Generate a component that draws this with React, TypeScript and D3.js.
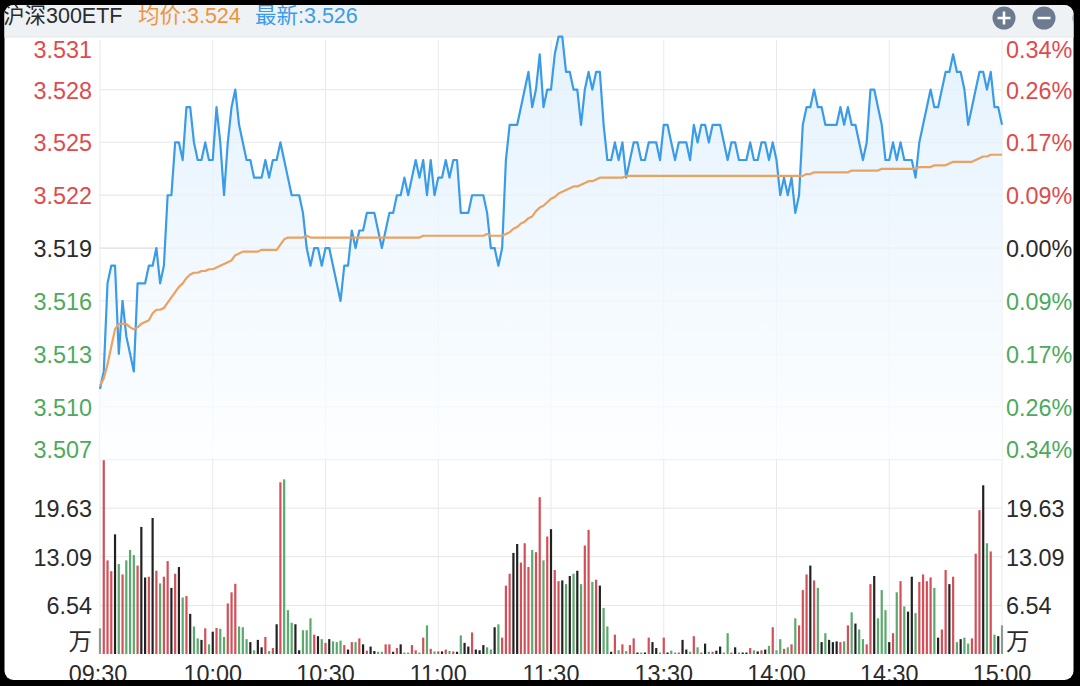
import * as d3 from 'd3';

const FONT = '"Liberation Sans", "Noto Sans CJK SC", sans-serif';

const timeLabels = ['09:30', '10:00', '10:30', '11:00', '11:30', '13:30', '14:00', '14:30', '15:00'];
const timeTicks = [0, 30, 60, 90, 120, 150, 180, 210, 240];

const priceTicks = ['3.531', '3.528', '3.525', '3.522', '3.519', '3.516', '3.513', '3.510', '3.507'];
const pctTicks = ['0.34%', '0.26%', '0.17%', '0.09%', '0.00%', '0.09%', '0.17%', '0.26%', '0.34%'];
const volTicks = ['19.63', '13.09', '6.54'];

// last price per minute, in thousandths of a yuan
const lastPrice = [
  3511, 3512, 3517, 3518, 3518, 3513, 3516, 3514, 3513, 3512,
  3517, 3517, 3517, 3518, 3518, 3519, 3517, 3518, 3522, 3522,
  3525, 3525, 3524, 3527, 3527, 3525, 3524, 3524, 3525, 3524,
  3524, 3527, 3525, 3522, 3525, 3527, 3528, 3526, 3525, 3524,
  3524, 3523, 3523, 3523, 3524, 3523, 3524, 3524, 3525, 3524,
  3523, 3522, 3522, 3522, 3521, 3519, 3518, 3519, 3519, 3518,
  3519, 3519, 3518, 3517, 3516, 3518, 3518, 3520, 3519, 3520,
  3520, 3521, 3521, 3521, 3520, 3519, 3520, 3521, 3521, 3522,
  3522, 3523, 3522, 3523, 3524, 3523, 3524, 3522, 3524, 3522,
  3523, 3523, 3524, 3523, 3524, 3524, 3521, 3521, 3521, 3522,
  3522, 3522, 3522, 3521, 3519, 3519, 3518, 3519, 3524, 3526,
  3526, 3526, 3527, 3528, 3529, 3527, 3528, 3530, 3527, 3528,
  3528, 3530, 3531, 3531, 3529, 3529, 3528, 3528, 3526, 3528,
  3529, 3528, 3529, 3529, 3526, 3524, 3524, 3525, 3524, 3525,
  3523, 3524, 3525, 3525, 3524, 3524, 3525, 3525, 3525, 3524,
  3526, 3526, 3525, 3524, 3525, 3525, 3525, 3524, 3526, 3525,
  3526, 3526, 3525, 3526, 3526, 3526, 3525, 3524, 3525, 3525,
  3524, 3524, 3524, 3525, 3524, 3524, 3525, 3525, 3524, 3525,
  3524, 3522, 3523, 3522, 3523, 3521, 3522, 3526, 3527, 3527,
  3528, 3527, 3527, 3526, 3526, 3526, 3526, 3527, 3526, 3527,
  3526, 3526, 3525, 3524, 3525, 3528, 3528, 3527, 3526, 3524,
  3524, 3525, 3524, 3525, 3524, 3524, 3524, 3523, 3525, 3526,
  3527, 3528, 3527, 3527, 3528, 3529, 3529, 3530, 3529, 3529,
  3528, 3526, 3527, 3528, 3529, 3529, 3528, 3529, 3527, 3527, 3526,
];

// average price per minute
const avgPrice = [
  3.5112, 3.5116, 3.5124, 3.5134, 3.5144, 3.5147, 3.5147, 3.5147, 3.5145, 3.5144,
  3.5145, 3.5147, 3.5148, 3.5149, 3.5153, 3.5155, 3.5155, 3.5156, 3.5159, 3.5162,
  3.5165, 3.5168, 3.517, 3.5173, 3.5175, 3.5176, 3.5176, 3.5177, 3.5177, 3.5178,
  3.5178, 3.5179, 3.518, 3.5181, 3.5182, 3.5183, 3.5186, 3.5187, 3.5188, 3.5188,
  3.5188, 3.5188, 3.5188, 3.5189, 3.5189, 3.5189, 3.5189, 3.5189, 3.5192, 3.5195,
  3.5196, 3.5196, 3.5196, 3.5196, 3.5196, 3.5197, 3.5196, 3.5196, 3.5196, 3.5196,
  3.5196, 3.5196, 3.5196, 3.5196, 3.5196, 3.5196, 3.5196, 3.5196, 3.5196, 3.5196,
  3.5196, 3.5196, 3.5196, 3.5196, 3.5196, 3.5196, 3.5196, 3.5196, 3.5196, 3.5196,
  3.5196, 3.5196, 3.5196, 3.5196, 3.5196, 3.5196, 3.5197, 3.5197, 3.5197, 3.5197,
  3.5197, 3.5197, 3.5197, 3.5197, 3.5197, 3.5197, 3.5197, 3.5197, 3.5197, 3.5197,
  3.5197, 3.5197, 3.5197, 3.5198, 3.5197, 3.5197, 3.5197, 3.5197, 3.5198, 3.5199,
  3.5201, 3.5202, 3.5204, 3.5205, 3.5207, 3.5208, 3.5211, 3.5213, 3.5214, 3.5216,
  3.5218, 3.5219, 3.5221, 3.5222, 3.5223, 3.5224, 3.5225, 3.5225, 3.5226, 3.5227,
  3.5228, 3.5228, 3.5229, 3.523, 3.523, 3.523, 3.523, 3.523, 3.523, 3.523,
  3.5231, 3.5231, 3.5231, 3.5231, 3.5231, 3.5231, 3.5231, 3.5231, 3.5231, 3.5231,
  3.5231, 3.5231, 3.5231, 3.5231, 3.5231, 3.5231, 3.5231, 3.5231, 3.5231, 3.5231,
  3.5231, 3.5231, 3.5231, 3.5231, 3.5231, 3.5231, 3.5231, 3.5231, 3.5231, 3.5231,
  3.5231, 3.5231, 3.5231, 3.5231, 3.5231, 3.5231, 3.5231, 3.5231, 3.5231, 3.5231,
  3.5231, 3.5231, 3.5231, 3.5231, 3.5231, 3.5231, 3.5231, 3.5231, 3.5232, 3.5232,
  3.5233, 3.5233, 3.5233, 3.5233, 3.5233, 3.5233, 3.5233, 3.5233, 3.5233, 3.5233,
  3.5234, 3.5234, 3.5234, 3.5234, 3.5234, 3.5234, 3.5234, 3.5234, 3.5235, 3.5235,
  3.5235, 3.5235, 3.5235, 3.5235, 3.5235, 3.5235, 3.5235, 3.5235, 3.5236, 3.5236,
  3.5236, 3.5236, 3.5237, 3.5237, 3.5237, 3.5237, 3.5238, 3.5239, 3.5239, 3.5239,
  3.5239, 3.5239, 3.5239, 3.524, 3.5241, 3.5242, 3.5242, 3.5243, 3.5243, 3.5243, 3.5243,
];

// volume per minute, in 万
const volume = [
  3.45, 26.07, 12.6, 11.15, 16.1, 12.1, 10.7, 12.6, 14.0, 13.3,
  11.9, 17.1, 10.3, 10.4, 18.3, 11.2, 9.5, 10.4, 12.5, 8.9,
  10.8, 11.7, 7.6, 7.8, 5.4, 3.7, 2.1, 1.9, 3.45, 1.3,
  3.0, 3.5, 3.4, 2.3, 6.8, 8.3, 9.45, 3.7, 3.6, 2.0,
  1.6, 0.5, 1.9, 0.9, 2.3, 0.4, 0.8, 4.0, 23.1, 23.5,
  5.9, 4.2, 4.0, 0.5, 3.2, 3.2, 4.8, 2.6, 2.4, 2.0,
  1.5, 2.0, 1.7, 1.6, 1.8, 1.2, 0.6, 1.6, 1.6, 2.1,
  1.3, 0.45, 1.0, 0.4, 0.3, 0.3, 1.3, 1.3, 0.3, 0.8,
  1.3, 0.2, 0.2, 1.2, 0.5, 0.2, 2.2, 3.85, 0.7, 0.35,
  0.35, 0.35, 0.6, 0.4, 0.35, 0.3, 2.5, 1.5, 1.0, 2.9,
  0.6, 0.5, 1.2, 0.9, 0.6, 3.6, 4.0, 2.2, 9.2, 10.8,
  13.6, 14.8, 12.3, 14.9, 11.7, 14.0, 13.7, 21.1, 12.6, 15.8,
  16.8, 11.3, 9.8, 9.9, 9.4, 10.5, 10.8, 11.2, 9.4, 14.6,
  16.7, 9.7, 10.0, 9.2, 6.2, 3.7, 0.3, 2.6, 0.5, 1.3,
  0.4, 1.2, 2.1, 0.2, 0.2, 0.2, 2.2, 1.6, 0.8, 0.2,
  2.2, 0.2, 0.45, 0.2, 0.2, 1.9, 0.6, 0.3, 2.4, 0.9,
  0.2, 1.4, 0.3, 0.3, 0.45, 1.0, 0.2, 2.8, 0.2, 0.9,
  0.2, 0.2, 0.2, 0.8, 0.5, 0.35, 0.5, 0.6, 1.1, 3.6,
  0.5, 2.0, 0.7, 0.9, 1.3, 4.8, 3.85, 8.6, 10.7, 11.9,
  9.9, 8.9, 1.6, 2.8, 1.9, 1.6, 1.7, 1.6, 1.7, 3.85,
  5.6, 4.1, 3.3, 2.0, 1.3, 9.4, 10.5, 4.8, 8.6, 5.9,
  1.6, 2.8, 8.3, 9.8, 6.4, 5.7, 10.4, 5.5, 9.7, 10.7,
  9.8, 10.3, 8.9, 2.2, 3.3, 11.3, 9.4, 10.4, 1.6, 2.0,
  2.2, 1.4, 2.1, 13.5, 19.35, 22.7, 14.9, 13.8, 2.6, 2.4, 3.85,
];

// bar colour per minute: r up, g down, k flat, a auction
const volumeSide = (
  'arrrkgrggg' + 'rkkrkrgrrk' + 'rkgrkggkrg' + 'krggrrrggg' +
  'kgkkrgrkrg' + 'ggkkgggrkg' + 'rkgggrkrgr' + 'krkkggrrkr' +
  'kggrrgrgrg' + 'rkrgrkgkkr' + 'kkkggkgrrr' + 'kkrrrgrrgr' +
  'krrkgkgkgr' + 'rgrkggkrgr' + 'grrkgkrkkg' + 'rkggrkkgrg' +
  'rkgrkkggrk' + 'gkkrgkrkgr' + 'ggrgrgrrrk' + 'rgkgkkkrgr' +
  'gkggrrkggg' + 'krgrgkkgrr' + 'rrgkrrkrgk' + 'ggrrrkgrgka'
).split('');

const sideColors: Record<string, string> = { r: '#d44f58', g: '#5ba96c', k: '#222222', a: '#8f9a94' };

const x = d3.scaleLinear().domain([0, 240]).range([100, 1002]);
const yPrice = d3.scaleLinear().domain([3.507, 3.531]).range([459.5, 36.7]);
const yVol = d3.scaleLinear().domain([0, 26.17]).range([654, 459.5]);

const priceLine = d3.line<number>().x((_, i) => x(i)).y((d) => yPrice(d / 1000));
const priceArea = d3
  .area<number>()
  .x((_, i) => x(i))
  .y0(yPrice(3.507))
  .y1((d) => yPrice(d / 1000));
const avgLine = d3.line<number>().x((_, i) => x(i)).y((d) => yPrice(d));

const tickColor = (i: number) => (i < 4 ? '#df4b4d' : i === 4 ? '#2b2b2b' : '#4caa5c');
// top and bottom labels sit inside the plot, not on their grid line
const labelY = (i: number) => {
  const y = yPrice(+priceTicks[i]);
  return i === 0 ? y + 13 : i === 8 ? y - 10 : y + 1;
};

export default function App() {
  return (
    <svg
      width={1080}
      height={686}
      style={{ position: 'fixed', left: 0, top: 0, display: 'block', fontFamily: FONT }}
    >
      <defs>
        <clipPath id="frame">
          <rect x={4.5} y={5} width={1069} height={675} rx={9} />
        </clipPath>
        <linearGradient id="areaFill" gradientUnits="userSpaceOnUse" x1={0} y1={36} x2={0} y2={460}>
          <stop offset="0%" stopColor="#deeffd" />
          <stop offset="100%" stopColor="#fdfeff" />
        </linearGradient>
      </defs>
      <rect width={1080} height={686} fill="#000" />
      <g clipPath="url(#frame)">
        <rect width={1080} height={686} fill="#fff" />
        <rect x={0} y={0} width={1080} height={37} fill="#eff2f4" />
        <line x1={0} x2={1080} y1={37} y2={37} stroke="#e4e6e8" strokeWidth={1} />

        <text x={3} y={23} fontSize={21.5} fill="#2b2b2b">沪深300ETF</text>
        <text x={138} y={23} fontSize={21.5} fill="#f0923a">均价:3.524</text>
        <text x={255} y={23} fontSize={21.5} fill="#3a9bee">最新:3.526</text>

        <circle cx={1004} cy={18} r={11.5} fill="#6c7b8f" />
        <path d="M997.5 18H1010.5M1004 11.5V24.5" stroke="#fff" strokeWidth={2.6} />
        <circle cx={1044} cy={18} r={11.5} fill="#6c7b8f" />
        <path d="M1037.5 18H1050.5" stroke="#fff" strokeWidth={2.6} />
        <circle cx={1084} cy={18} r={11.5} fill="#6c7b8f" />

        {/* grid */}
        {priceTicks.slice(1).map((t) => (
          <line
            key={t}
            x1={x(0)}
            x2={x(240)}
            y1={yPrice(+t)}
            y2={yPrice(+t)}
            stroke={t === '3.519' ? '#dcdee1' : '#ececee'}
            strokeWidth={1.3}
          />
        ))}
        {volTicks.map((t) => (
          <line key={t} x1={x(0)} x2={x(240)} y1={yVol(+t)} y2={yVol(+t)} stroke="#e6e6e8" strokeWidth={1} />
        ))}
        {timeTicks.map((t) => (
          <line key={t} x1={x(t)} x2={x(t)} y1={40} y2={654} stroke="#e6e9ed" strokeWidth={1} />
        ))}

        {/* price */}
        <path d={priceArea(lastPrice) ?? ''} fill="url(#areaFill)" fillOpacity={0.8} />
        <path d={priceLine(lastPrice) ?? ''} fill="none" stroke="#3a9be8" strokeWidth={2.2} strokeLinejoin="round" />
        <path d={avgLine(avgPrice) ?? ''} fill="none" stroke="#eba15f" strokeWidth={2.2} strokeLinejoin="round" />

        {/* volume */}
        {volume.map((v, i) => (
          <rect
            key={i}
            x={x(i) - 1.1}
            y={yVol(v)}
            width={2.2}
            height={yVol(0) - yVol(v)}
            fill={sideColors[volumeSide[i]]}
          />
        ))}

        {/* axis labels */}
        <g fontSize={23.4} dominantBaseline="central">
          {priceTicks.map((t, i) => (
            <text key={t} x={92} y={labelY(i)} textAnchor="end" fill={tickColor(i)}>{t}</text>
          ))}
          {pctTicks.map((t, i) => (
            <text key={i} x={1006} y={labelY(i)} fill={tickColor(i)}>{t}</text>
          ))}
          {volTicks.map((t) => (
            <g key={t} fill="#2b2b2b">
              <text x={92} y={yVol(+t) + 1} textAnchor="end">{t}</text>
              <text x={1006} y={yVol(+t) + 1}>{t}</text>
            </g>
          ))}
          <text x={92} y={642} textAnchor="end" fill="#2b2b2b">万</text>
          <text x={1006} y={642} fill="#2b2b2b">万</text>
        </g>
        {timeLabels.map((t, i) => (
          <text key={t} x={x(timeTicks[i]) - (i === 0 ? 2 : 0)} y={682} fontSize={23.4} textAnchor="middle" fill="#2b2b2b">
            {t}
          </text>
        ))}
      </g>
    </svg>
  );
}
